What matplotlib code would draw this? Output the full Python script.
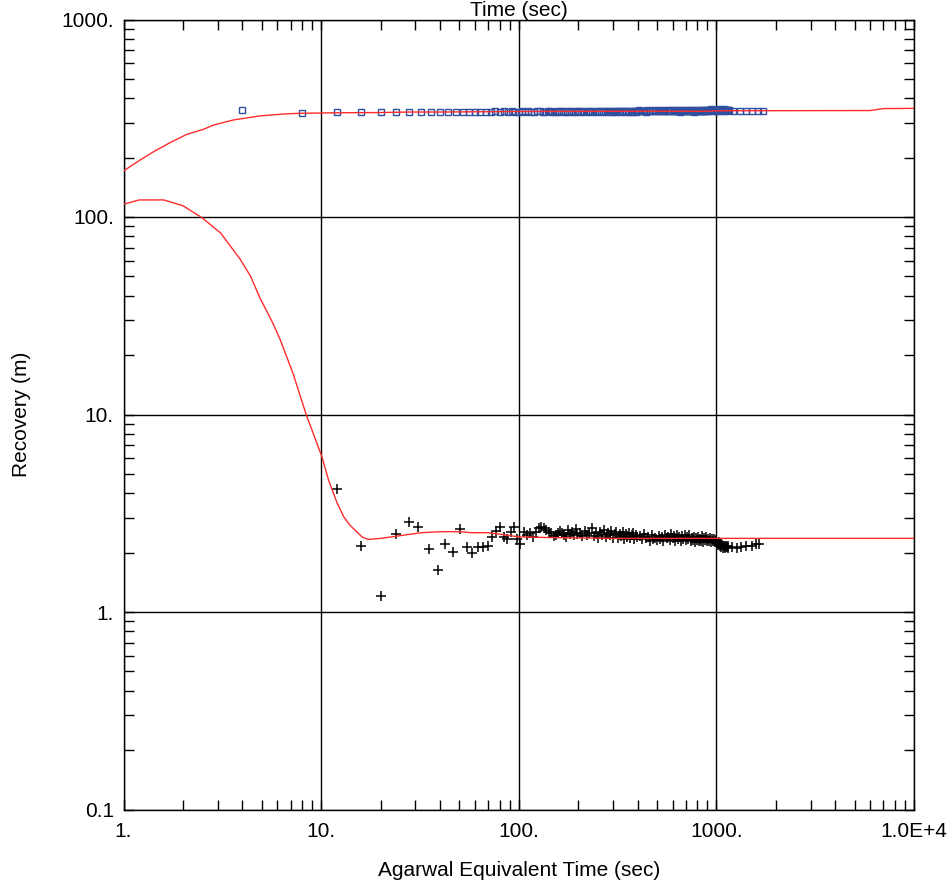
import numpy as np
import matplotlib
matplotlib.use('Agg')
import matplotlib.pyplot as plt
from matplotlib.ticker import LogLocator, NullFormatter

plt.rcParams['font.family'] = ['Liberation Sans', 'DejaVu Sans']
plt.rcParams['font.size'] = 15

### recovery data (open squares), 4 s sampling then coarser
t_rec1 = [4, 8, 12, 16, 20, 24, 28, 32, 36, 40, 44, 48, 52, 56, 60, 64, 68]
rec1 = [347, 337, 341, 340, 340, 340, 340, 340, 341, 341, 341, 341, 341, 341, 341, 341, 341]
t_rec2 = np.arange(72, 200, 4)
rec2 = [342, 343, 341, 344, 342, 343, 341, 342, 344, 342, 343, 341, 342, 344, 343, 341,
        342, 343, 344, 342, 341, 343, 342, 344, 343, 341, 342, 343, 344, 342, 341, 343]
t_rec3 = np.arange(200, 400, 6)
rec3 = [343, 341, 344, 342, 343, 345, 341, 343, 342, 344,
        343, 341, 344, 342, 345, 343, 341, 344, 342, 343,
        345, 342, 344, 343, 341, 343, 345, 342, 344, 341,
        343, 345, 342, 344]
t_rec4 = np.arange(400, 1160, 8)
rec4 = [344, 347, 343, 346, 345, 342, 347, 344, 346, 343,
        348, 345, 344, 347, 343, 346, 345, 348, 344, 346,
        343, 347, 345, 344, 348, 346, 343, 347, 345, 344,
        347, 346, 342, 345, 348, 344, 346, 343, 347, 345,
        344, 348, 346, 343, 347, 345, 342, 346, 348, 344,
        345, 347, 343, 346, 348, 344, 345, 347, 343, 346,
        348, 345, 347,
        349, 346, 350, 347, 348, 351, 346, 349, 347, 350,
        348, 346, 349, 347, 348, 350, 346, 351, 348, 347,
        349, 350, 346, 348, 351, 347, 349, 346, 350, 348,
        347, 349]
t_rec5 = [1220, 1320, 1420, 1520, 1620, 1720]
rec5 = [345, 345, 345, 345, 345, 345]

### derivative data (crosses)
t_der1 = [12, 16, 20, 24, 28, 31, 35, 39, 42.5, 46.5, 50.5, 54.5, 58, 62, 66, 69.5,
          73, 77, 80, 84, 87.5, 91, 94.5, 98, 101, 106]
der1 = [4.18, 2.17, 1.20, 2.48, 2.84, 2.70, 2.09, 1.64, 2.21, 2.01, 2.63, 2.14, 1.99,
        2.14, 2.14, 2.16, 2.40, 2.56, 2.68, 2.40, 2.34, 2.53, 2.70, 2.35, 2.21, 2.53]
t_der2 = np.arange(110, 202, 4)
der2 = [2.45, 2.50, 2.40, 2.55, 2.67, 2.70, 2.67, 2.60, 2.55, 2.50, 2.42, 2.46, 2.52,
        2.58, 2.50, 2.46, 2.40, 2.60, 2.48, 2.55, 2.44, 2.62, 2.47]
t_der3 = np.arange(204, 402, 6)
der3 = [2.52, 2.42, 2.56, 2.45, 2.50, 2.66, 2.43, 2.52, 2.38, 2.55, 2.46, 2.60, 2.40,
        2.50, 2.44, 2.57, 2.38, 2.48, 2.53, 2.36, 2.47, 2.42, 2.55, 2.35, 2.48, 2.40,
        2.52, 2.37, 2.45, 2.50, 2.34, 2.44, 2.40]
t_der4 = np.arange(410, 1160, 10)
der4 = [2.42, 2.33, 2.47, 2.36, 2.40, 2.30, 2.44, 2.35, 2.38, 2.31,
        2.43, 2.34, 2.40, 2.29, 2.46, 2.36, 2.41, 2.32, 2.48, 2.37,
        2.42, 2.30, 2.45, 2.35, 2.39, 2.28, 2.43, 2.34, 2.46, 2.31,
        2.40, 2.33, 2.45, 2.29, 2.38, 2.32, 2.41, 2.27, 2.36, 2.31,
        2.39, 2.28, 2.35, 2.30, 2.42, 2.27, 2.36, 2.31, 2.40, 2.28,
        2.34, 2.30, 2.38, 2.27, 2.33, 2.29, 2.35, 2.26, 2.31, 2.28,
        2.24, 2.19, 2.25, 2.16, 2.21, 2.13, 2.18, 2.12, 2.17, 2.14,
        2.11, 2.16, 2.13, 2.10, 2.15]
t_der5 = [1200, 1270, 1340, 1420, 1510, 1580, 1650]
der5 = [2.14, 2.12, 2.14, 2.15, 2.17, 2.20, 2.22]

### model curves (red)
t_mod_rec = [1.0, 1.21, 1.42, 1.72, 2.09, 2.54, 2.85, 3.6, 4.9, 6.4, 7.8, 11.5, 20, 28,
             40, 100, 300, 900, 1000, 6000, 7000, 10000]
mod_rec = [171, 194, 214, 238, 262, 278, 292, 310, 325, 332, 335, 337, 338, 340,
           340, 342, 343, 343, 345, 346, 354, 355]
t_mod_der = [1.0, 1.2, 1.6, 2.0, 2.5, 3.1, 3.9, 4.4, 4.9, 5.7, 6.2, 7.2, 8.4, 10.1,
             10.9, 12.0, 13.0, 14.0, 16.1, 17.3, 20.0, 24.0, 32.0, 40.0, 50.0, 58.0,
             70.0, 87.0, 100.0, 150.0, 300.0, 1000.0, 10000.0]
mod_der = [116, 122, 122, 114, 99, 83, 61, 50, 39, 29, 24, 16.2, 10.0, 6.1,
           4.66, 3.6, 3.04, 2.75, 2.40, 2.33, 2.36, 2.42, 2.52, 2.55, 2.55, 2.52,
           2.52, 2.45, 2.40, 2.38, 2.36, 2.36, 2.36]

xticks = [1, 10, 100, 1000, 10000]
xtick_labels = ['1.', '10.', '100.', '1000.', '1.0E+4']
yticks = [0.1, 1, 10, 100, 1000]
ytick_labels = ['0.1', '1.', '10.', '100.', '1000.']

W, H = 950, 886
fig = plt.figure(figsize=(W / 100, H / 100), dpi=100)
ax = fig.add_axes([123.5 / W, 1 - 809.5 / H, (914 - 123.5) / W, (809.5 - 19.5) / H])
ax.set_xscale('log')
ax.set_yscale('log')

ax.plot(t_mod_rec, mod_rec, color='#ff2b2b', lw=1.0, zorder=3)
ax.plot(t_mod_der, mod_der, color='#ff2b2b', lw=1.0, zorder=3)

t_rec = np.concatenate([t_rec1, t_rec2, t_rec3, t_rec4, t_rec5])
rec = np.concatenate([rec1, rec2, rec3, rec4, rec5])
ax.plot(t_rec, rec, ls='none', marker='s', ms=4.7, mfc='none', mec='#2f4f9f',
        mew=1.0, zorder=2)

t_der = np.concatenate([t_der1, t_der2, t_der3, t_der4, t_der5])
der = np.concatenate([der1, der2, der3, der4, der5])
ax.plot(t_der, der, ls='none', marker='+', ms=6.8, mec='black', mew=1.1, zorder=2)

ax.set_xlim(1, 1e4)
ax.set_ylim(0.1, 1000)
ax.set_xticks(xticks, xtick_labels)
ax.set_yticks(yticks, ytick_labels)
for axis in (ax.xaxis, ax.yaxis):
    axis.set_minor_locator(LogLocator(base=10, subs=np.arange(2, 10), numticks=20))
    axis.set_minor_formatter(NullFormatter())
ax.tick_params(which='both', direction='in', top=True, right=True, width=1.0,
               color='black')
ax.tick_params(which='both', length=7)
ax.tick_params(axis='x', which='major', pad=9)
ax.tick_params(axis='y', which='major', pad=7)
ax.grid(which='major', color='black', lw=1.0)
for s in ax.spines.values():
    s.set_linewidth(1.0)
    s.set_color('black')

# top axis title sits right at the edge, as in the original
fig.text(518.8 / W, 1 - 15.5 / H, 'Time (sec)', ha='center', va='baseline')
fig.text(518.8 / W, 1 - 876 / H, 'Agarwal Equivalent Time (sec)', ha='center', va='baseline')
fig.text(22 / W, 1 - 414.5 / H, 'Recovery (m)', rotation=90, ha='center', va='center')

fig.savefig('out.png', dpi=100)
